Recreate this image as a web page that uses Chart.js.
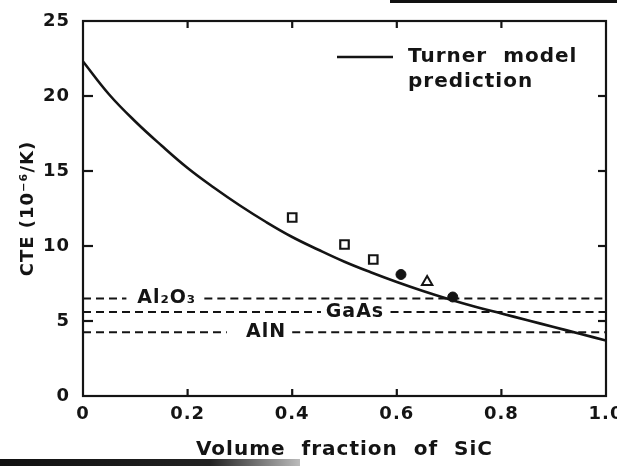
<!DOCTYPE html>
<html>
<head>
<meta charset="utf-8">
<script src="https://cdn.jsdelivr.net/npm/chart.js@4"></script>
<style>
  html, body { margin: 0; padding: 0; background: #fff; }
  #wrap { position: relative; width: 617px; height: 466px; overflow: hidden; }
  .edge { position: absolute; background: #111; }
</style>
</head>
<body>
<div id="wrap">
  <canvas id="cteChart" width="617" height="466"></canvas>
  <div class="edge" style="left:390px;top:0;width:227px;height:3px"></div>
  <div class="edge" style="left:0;top:459px;width:300px;height:7px;background:linear-gradient(90deg,#111 0%,#222 70%,#bbb 100%)"></div>
</div>
<script>
// Turner model curve, CTE in 10^-6/K against SiC volume fraction
const sicFraction = [0, 0.05, 0.1, 0.15, 0.2, 0.25, 0.3, 0.35, 0.4, 0.45, 0.5,
                     0.55, 0.6, 0.65, 0.7, 0.75, 0.8, 0.85, 0.9, 0.95, 1.0];
const turnerCte = [22.3, 20.1, 18.3, 16.7, 15.2, 13.9, 12.7, 11.6, 10.6, 9.75, 8.95,
                   8.25, 7.6, 7.0, 6.45, 5.95, 5.5, 5.05, 4.6, 4.15, 3.7];

// measured composites
const squareX = [0.40, 0.50, 0.555];
const squareCte = [11.9, 10.1, 9.1];
const dotX = [0.608, 0.707];
const dotCte = [8.1, 6.6];
const triangleX = [0.658];
const triangleCte = [7.6];

// substrate materials (horizontal reference lines)
const materials = ['Al\u2082O\u2083', 'GaAs', 'AlN'];
const materialCte = [6.5, 5.6, 4.25];

const xTicks = [0, 0.2, 0.4, 0.6, 0.8, 1.0];
const xTickLabels = ['0', '0.2', '0.4', '0.6', '0.8', '1.0'];
const yTicks = [0, 5, 10, 15, 20, 25];
const yTickLabels = ['0', '5', '10', '15', '20', '25'];

const FONT = "'DejaVu Sans', sans-serif";
const INK = '#141414';

// where each material name sits along its line, and the break left in the dashes
const labelSpots = [
  {cx: 0.16, from: 0.083, to: 0.232},
  {cx: 0.52, from: 0.455, to: 0.588},
  {cx: 0.35, from: 0.275, to: 0.40}
];

const xy = (xs, ys) => xs.map((v, i) => ({x: v, y: ys[i]}));

const materialSets = materials.map((name, i) => {
  const v = materialCte[i];
  const s = labelSpots[i];
  return {
    label: name,
    data: [{x: 0, y: v}, {x: s.from, y: v}, {x: s.from, y: null}, {x: s.to, y: v}, {x: 1, y: v}],
    borderColor: INK,
    borderWidth: 2,
    borderDash: [8, 5],
    pointRadius: 0,
    spanGaps: false,
    fill: false
  };
});

const frameAndLabels = {
  id: 'frameAndLabels',
  beforeDraw(chart) {
    // the lettering on this figure is widely spaced
    chart.ctx.letterSpacing = '1px';
  },
  afterDatasetsDraw(chart) {
    const {ctx, chartArea: a, scales: {x, y}} = chart;
    ctx.save();
    ctx.strokeStyle = INK;
    ctx.lineWidth = 2.2;
    ctx.strokeRect(a.left, a.top, a.right - a.left, a.bottom - a.top);
    const seg = (x1, y1, x2, y2) => { ctx.beginPath(); ctx.moveTo(x1, y1); ctx.lineTo(x2, y2); ctx.stroke(); };
    xTicks.slice(1, -1).forEach(v => {
      const px = x.getPixelForValue(v);
      seg(px, a.bottom, px, a.bottom - 7);
      seg(px, a.top, px, a.top + 7);
    });
    yTicks.slice(1, -1).forEach(v => {
      const py = y.getPixelForValue(v);
      seg(a.left, py, a.left + 10, py);
      seg(a.right, py, a.right - 8, py);
    });

    // material names on their lines
    ctx.fillStyle = INK;
    ctx.font = 'bold 19px ' + FONT;
    ctx.textAlign = 'center';
    ctx.textBaseline = 'middle';
    materials.forEach((name, i) => {
      ctx.fillText(name, x.getPixelForValue(labelSpots[i].cx), y.getPixelForValue(materialCte[i]));
    });

    // legend
    ctx.lineWidth = 2.5;
    seg(337, 57, 393, 57);
    ctx.textAlign = 'left';
    ctx.font = 'bold 20px ' + FONT;
    ctx.fillText('Turner  model', 408, 57);
    ctx.fillText('prediction', 408, 82);
    ctx.restore();
  }
};

new Chart(document.getElementById('cteChart'), {
  type: 'line',
  data: {
    datasets: [
      {
        label: 'Turner model prediction',
        data: xy(sicFraction, turnerCte),
        borderColor: INK,
        borderWidth: 2.6,
        pointRadius: 0,
        tension: 0.4,
        fill: false
      },
      ...materialSets,
      {
        label: 'squares',
        data: xy(squareX, squareCte),
        showLine: false,
        pointStyle: 'rect',
        pointRadius: 6,
        borderColor: INK,
        borderWidth: 2.2,
        backgroundColor: 'rgba(255,255,255,0)'
      },
      {
        label: 'dots',
        data: xy(dotX, dotCte),
        showLine: false,
        pointStyle: 'circle',
        pointRadius: 5,
        borderColor: INK,
        backgroundColor: INK
      },
      {
        label: 'triangle',
        data: xy(triangleX, triangleCte),
        showLine: false,
        pointStyle: 'triangle',
        pointRadius: 6,
        borderColor: INK,
        borderWidth: 2,
        backgroundColor: 'rgba(255,255,255,0)'
      }
    ]
  },
  options: {
    responsive: false,
    animation: false,
    layout: {padding: {top: 21, right: 11, left: 0, bottom: 0}},
    plugins: {legend: {display: false}, tooltip: {enabled: false}},
    scales: {
      x: {
        type: 'linear',
        min: 0,
        max: 1,
        afterBuildTicks: s => { s.ticks = xTicks.map(v => ({value: v})); },
        afterFit: s => { s.height = 70; s.paddingLeft = 0; s.paddingRight = 0; },
        grid: {display: false, drawTicks: false},
        border: {display: false},
        ticks: {
          autoSkip: false,
          maxRotation: 0,
          padding: 8,
          color: INK,
          font: {family: FONT, size: 18, weight: 'bold'},
          callback: (v, i) => xTickLabels[i]
        },
        title: {
          display: true,
          text: 'Volume  fraction  of  SiC',
          color: INK,
          font: {family: FONT, size: 20, weight: 'bold'},
          padding: {bottom: 4}
        }
      },
      y: {
        min: 0,
        max: 25,
        afterBuildTicks: s => { s.ticks = yTicks.map(v => ({value: v})); },
        afterFit: s => { s.width = 83; s.paddingTop = 0; s.paddingBottom = 0; },
        grid: {display: false, drawTicks: false},
        border: {display: false},
        ticks: {
          padding: 13,
          color: INK,
          font: {family: FONT, size: 18, weight: 'bold'},
          callback: (v, i) => yTickLabels[i]
        },
        title: {
          display: true,
          text: 'CTE (10\u207B\u2076/K)',
          color: INK,
          font: {family: FONT, size: 18, weight: 'bold'},
          padding: {top: 18}
        }
      }
    }
  },
  plugins: [frameAndLabels]
});
</script>
</body>
</html>
